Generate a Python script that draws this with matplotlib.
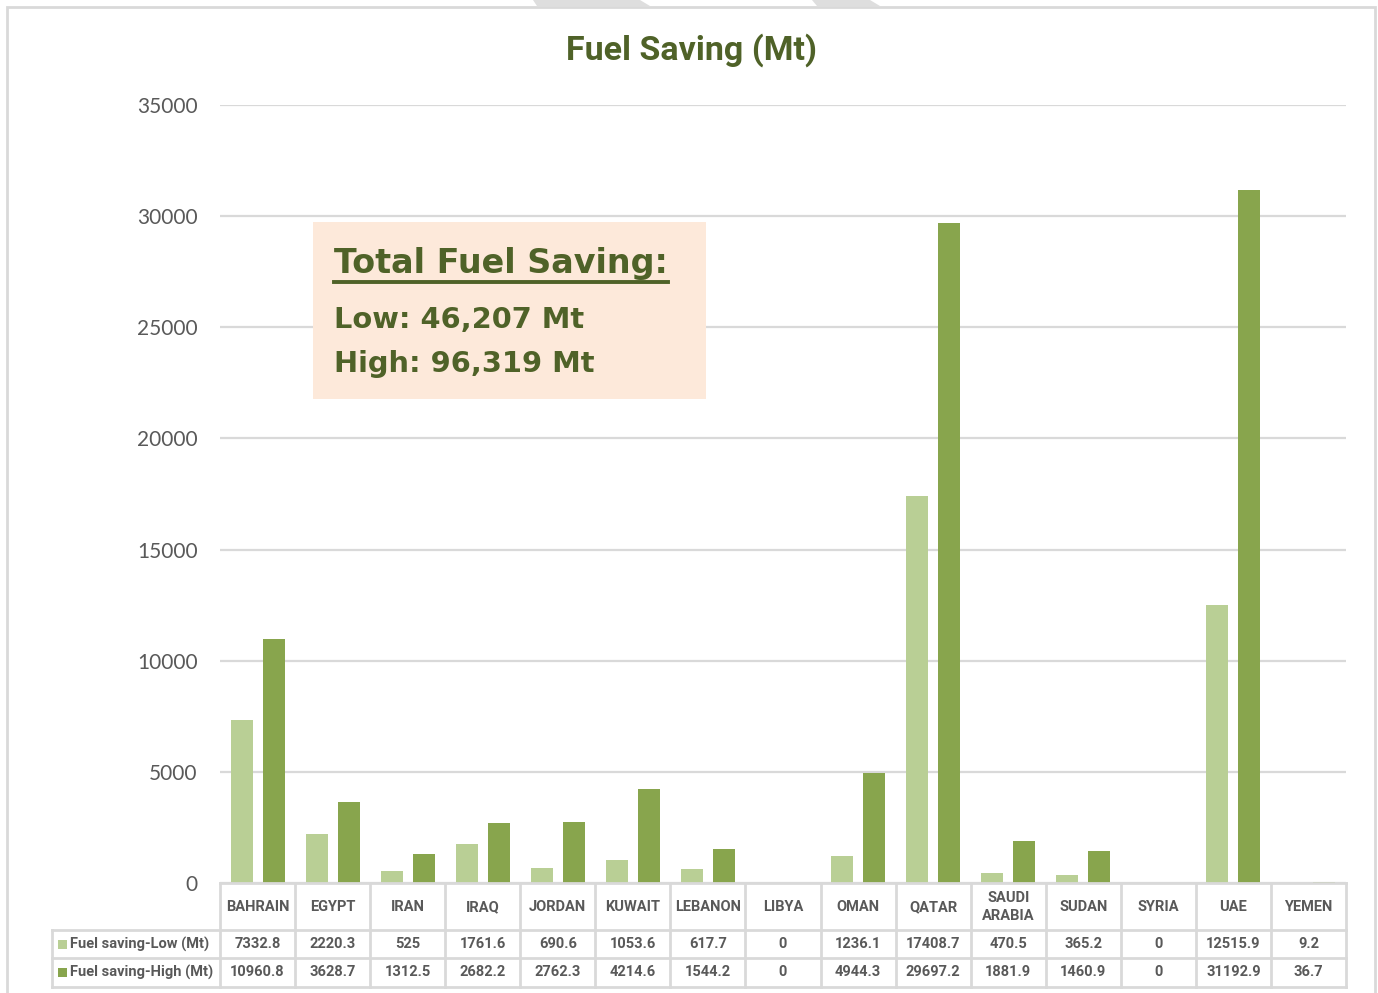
import matplotlib
matplotlib.use("Agg")
import matplotlib.pyplot as plt
from matplotlib.patches import Rectangle, Polygon
from matplotlib.transforms import blended_transform_factory
import numpy as np

# ---- data ----
countries = ["BAHRAIN", "EGYPT", "IRAN", "IRAQ", "JORDAN", "KUWAIT", "LEBANON",
             "LIBYA", "OMAN", "QATAR", "SAUDI\nARABIA", "SUDAN", "SYRIA", "UAE", "YEMEN"]
saving_low = [7332.8, 2220.3, 525, 1761.6, 690.6, 1053.6, 617.7, 0,
              1236.1, 17408.7, 470.5, 365.2, 0, 12515.9, 9.2]
saving_high = [10960.8, 3628.7, 1312.5, 2682.2, 2762.3, 4214.6, 1544.2, 0,
               4944.3, 29697.2, 1881.9, 1460.9, 0, 31192.9, 36.7]
series_names = ["Fuel saving-Low (Mt)", "Fuel saving-High (Mt)"]
y_ticks = [0, 5000, 10000, 15000, 20000, 25000, 30000, 35000]

# ---- style ----
C_LOW = "#B9CF95"
C_HIGH = "#88A54D"
C_TITLE = "#4F6228"
C_TEXT = "#595959"
C_GRID = "#D9D9D9"
C_BOX = "#FDE9DA"
UI_FONT = ["Lato", "DejaVu Sans"]
BOLD_FONT = ["Roboto", "DejaVu Sans"]
BOX_FONT = ["DejaVu Sans"]

W, H = 1378, 993
fig = plt.figure(figsize=(W / 100, H / 100), dpi=100)
fig.patch.set_facecolor("white")

# plot area in pixel geometry
left_px, right_px, top_px, bot_px = 220, 1346, 105, 883
ax = fig.add_axes([left_px / W, 1 - bot_px / H,
                   (right_px - left_px) / W, (bot_px - top_px) / H])

n = len(countries)
x = np.arange(n)
bw = 0.293
off = 0.213
ax.bar(x - off, saving_low, width=bw, color=C_LOW, zorder=3)
ax.bar(x + off, saving_high, width=bw, color=C_HIGH, zorder=3)

ax.set_xlim(-0.5, n - 0.5)
ax.set_ylim(0, 35000)
ax.set_yticks(y_ticks)
ax.set_yticklabels([str(t) for t in y_ticks], fontsize=15, color=C_TEXT,
                   family=UI_FONT)
ax.tick_params(axis="y", length=0, pad=16)
ax.set_xticks([])
ax.grid(axis="y", color=C_GRID, lw=1.6, zorder=0)
for s in ax.spines.values():
    s.set_visible(False)

# ---- title ----
fig.text(691 / W, 1 - 50 / H, "Fuel Saving (Mt)", ha="center", va="center",
         fontsize=24.5, fontweight="bold", color=C_TITLE, family=BOLD_FONT)

# ---- totals box ----
tot_low = sum(saving_low)
tot_high = sum(saving_high)
box = Rectangle((313 / W, 1 - 399 / H), (706 - 313) / W, (399 - 222) / H,
                transform=fig.transFigure, facecolor=C_BOX, edgecolor="none",
                zorder=5)
fig.patches.append(box)
t = fig.text(334 / W, 1 - 263 / H, "Total Fuel Saving:", ha="left", va="center",
             fontsize=24, fontweight="bold", color=C_TITLE, family=BOX_FONT,
             zorder=6)
fig.canvas.draw()
bb = t.get_window_extent()
fig.add_artist(plt.Line2D([bb.x0 / W, bb.x1 / W], [1 - 282 / H, 1 - 282 / H],
                          transform=fig.transFigure, color=C_TITLE, lw=2.8,
                          zorder=6))
fig.text(334 / W, 1 - 320 / H, f"Low: {tot_low:,.0f} Mt", ha="left",
         va="center", fontsize=20.8, fontweight="bold", color=C_TITLE,
         family=BOX_FONT, zorder=6)
fig.text(334 / W, 1 - 364 / H, f"High: {tot_high:,.0f} Mt", ha="left",
         va="center", fontsize=20.8, fontweight="bold", color=C_TITLE,
         family=BOX_FONT, zorder=6)

# ---- data table under the axis ----
tr = blended_transform_factory(ax.transData, ax.transAxes)
ah = bot_px - top_px


def fy(py):
    return (bot_px - py) / ah


row_lines = [883, 930, 958, 987]
legend_left = -0.5 - (left_px - 52) / ((right_px - left_px) / n)
lk = dict(color=C_GRID, lw=2, clip_on=False, zorder=4, solid_capstyle="projecting")
# horizontal lines
ax.plot([-0.5, n - 0.5], [fy(883), fy(883)], transform=tr, **lk)
for py in row_lines[1:]:
    ax.plot([legend_left, n - 0.5], [fy(py), fy(py)], transform=tr, **lk)
# vertical lines
for k in range(n + 1):
    ax.plot([k - 0.5, k - 0.5], [fy(883), fy(987)], transform=tr, **lk)
ax.plot([legend_left, legend_left], [fy(930), fy(987)], transform=tr, **lk)

tk = dict(ha="center", va="center", fontsize=10.5, fontweight="bold",
          color=C_TEXT, family=BOLD_FONT, transform=tr, clip_on=False)


def fmt(v):
    return f"{v:g}"


for i, c in enumerate(countries):
    ax.text(i, fy(907), c, linespacing=1.4, **tk)
    ax.text(i, fy(944), fmt(saving_low[i]), **tk)
    ax.text(i, fy(972.5), fmt(saving_high[i]), **tk)

# legend keys + series names
for name, col, py in [(series_names[0], C_LOW, 944), (series_names[1], C_HIGH, 972.5)]:
    fig.patches.append(Rectangle((58 / W, 1 - (py + 4.5) / H), 9 / W, 9 / H,
                                 transform=fig.transFigure, facecolor=col,
                                 edgecolor="none"))
    fig.text(70 / W, 1 - py / H, name, ha="left", va="center", fontsize=10.5,
             fontweight="bold", color=C_TEXT, family=BOLD_FONT)

# ---- outer chart frame ----
fig.patches.append(Rectangle((7 / W, -0.02), (1375 - 7) / W, 1.02 - 7 / H,
                             transform=fig.transFigure, facecolor="none",
                             edgecolor=C_GRID, lw=2))

# page decorations along the top edge
for pts in ([(533, 0), (640, 0), (650, 6), (537, 6)],
            [(812, 0), (870, 0), (880, 6), (817, 6)]):
    fig.patches.append(Polygon([(px / W, 1 - py / H) for px, py in pts],
                               closed=True, transform=fig.transFigure,
                               facecolor="#DEDEDE", edgecolor="none"))

fig.savefig("out.png", dpi=100, facecolor="white")
